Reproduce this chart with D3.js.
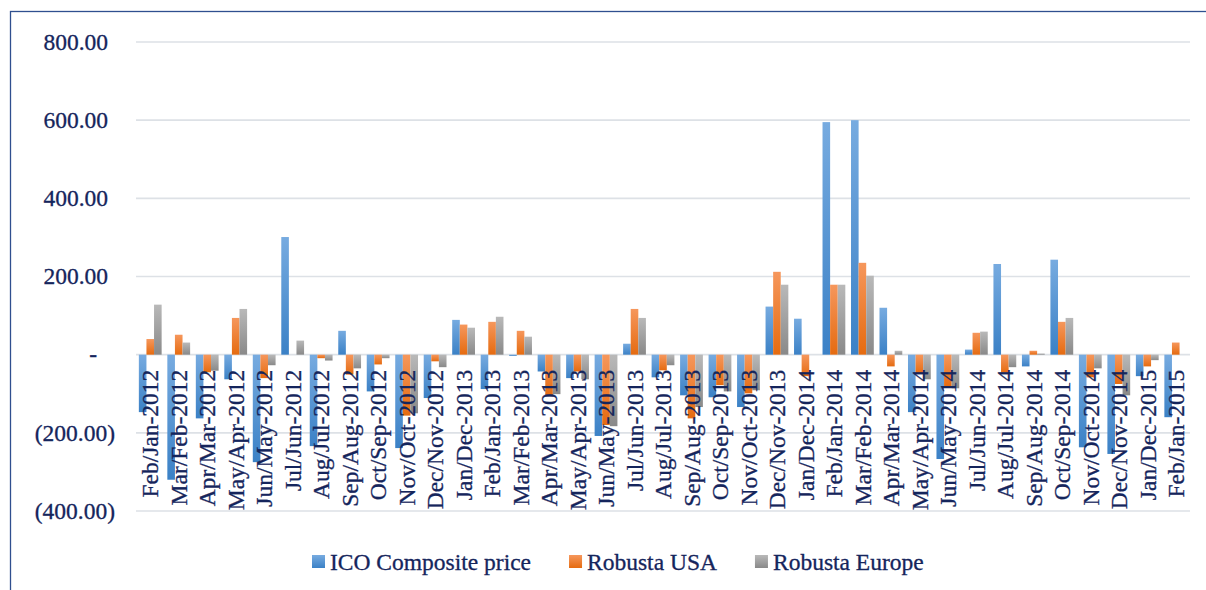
<!DOCTYPE html>
<html>
<head>
<meta charset="utf-8">
<script src="https://cdn.jsdelivr.net/npm/d3@7"></script>
<style>
  body { margin: 0; background: #fff; }
  svg text { font-family: "Liberation Serif", "Times New Roman", serif; fill: #15255C; stroke: #15255C; stroke-width: 0.3px; }
</style>
</head>
<body>
<svg id="chart" width="1206" height="590"></svg>
<script>
"use strict";

// Month-on-month changes.
const categories = [
  "Feb/Jan-2012", "Mar/Feb-2012", "Apr/Mar-2012", "May/Apr-2012", "Jun/May-2012", "Jul/Jun-2012",
  "Aug/Jul-2012", "Sep/Aug-2012", "Oct/Sep-2012", "Nov/Oct-2012", "Dec/Nov-2012", "Jan/Dec-2013",
  "Feb/Jan-2013", "Mar/Feb-2013", "Apr/Mar-2013", "May/Apr-2013", "Jun/May-2013", "Jul/Jun-2013",
  "Aug/Jul-2013", "Sep/Aug-2013", "Oct/Sep-2013", "Nov/Oct-2013", "Dec/Nov-2013", "Jan/Dec-2014",
  "Feb/Jan-2014", "Mar/Feb-2014", "Apr/Mar-2014", "May/Apr-2014", "Jun/May-2014", "Jul/Jun-2014",
  "Aug/Jul-2014", "Sep/Aug-2014", "Oct/Sep-2014", "Nov/Oct-2014", "Dec/Nov-2014", "Jan/Dec-2015",
  "Feb/Jan-2015"
];
const icoComposite = [
  -147, -320, -163, -63, -275, 301, -234, 61, -94, -239, -111, 89,
  -88, -3, -43, -60, -208, 28, -58, -104, -109, -134, 123, 92,
  595, 600, 120, -147, -267, 13, 232, -30, 243, -237, -254, -55,
  -160
];
const robustaUsa = [
  40, 51, -45, 94, -60, 0, -9, -51, -25, -156, -17, 77,
  84, 61, -106, -43, -180, 117, -40, -163, -78, -99, 212, -55,
  179, 235, -30, -49, -81, 56, -46, 10, 84, -58, -75, -30,
  31
];
const robustaEurope = [
  128, 31, -41, 117, -27, 36, -15, -35, -9, -150, -32, 69,
  97, 46, -101, -63, -183, 94, -27, -134, -94, -91, 179, 0,
  179, 202, 10, -63, -86, 59, -32, 3, 94, -35, -104, -14,
  0
];
const yTicks = [-400, -200, 0, 200, 400, 600, 800];

const series = [
  { key: "ico", name: "ICO Composite price", values: icoComposite, c0: "#77ABE0", c1: "#3B81C6" },
  { key: "usa", name: "Robusta USA", values: robustaUsa, c0: "#F6975C", c1: "#E56B10" },
  { key: "eur", name: "Robusta Europe", values: robustaEurope, c0: "#B9B9B9", c1: "#898989" }
];

const svg = d3.select("#chart");
const plot = { left: 136, right: 1190, top: 42, bottom: 511 };

// Gradients, light at top, dark at bottom like the Office style.
const defs = svg.append("defs");
series.forEach((s) => {
  const g = defs.append("linearGradient")
      .attr("id", "grad-" + s.key)
      .attr("x1", 0).attr("y1", 0).attr("x2", 0).attr("y2", 1);
  g.append("stop").attr("offset", "0%").attr("stop-color", s.c0);
  g.append("stop").attr("offset", "100%").attr("stop-color", s.c1);
});

// Outer chart border (runs off the right and bottom edges).
svg.append("rect")
    .attr("x", 10.5).attr("y", 11.5)
    .attr("width", 1300).attr("height", 700)
    .attr("fill", "none")
    .attr("stroke", "#2F4F8F")
    .attr("stroke-width", 1.3);

const x = d3.scaleBand()
    .domain(categories)
    .range([plot.left, plot.right])
    .paddingInner(0.2)
    .paddingOuter(0.1);

const x1 = d3.scaleBand()
    .domain(series.map((s) => s.key))
    .range([0, x.bandwidth()]);

const y = d3.scaleLinear()
    .domain([-400, 800])
    .range([plot.bottom, plot.top]);

// Gridlines.
svg.append("g")
    .selectAll("line")
    .data(yTicks)
    .enter().append("line")
    .attr("x1", plot.left).attr("x2", plot.right)
    .attr("y1", (d) => y(d)).attr("y2", (d) => y(d))
    .attr("stroke", "#DDE1E6")
    .attr("stroke-width", 1.6);

// Y axis labels in accounting format.
const fmt = d3.format(",.2f");
const yLabel = (d) => d === 0 ? "-" : d < 0 ? "(" + fmt(-d) + ")" : fmt(d);
svg.append("g")
    .selectAll("text")
    .data(yTicks)
    .enter().append("text")
    .attr("x", (d) => d === 0 ? 97 : d < 0 ? 115 : 108)
    .attr("y", (d) => y(d))
    .attr("dy", "0.33em")
    .attr("text-anchor", "end")
    .style("font-size", "23.5px")
    .text(yLabel);

// Bars.
const groups = svg.append("g")
    .selectAll("g")
    .data(categories)
    .enter().append("g")
    .attr("transform", (d) => "translate(" + x(d) + ",0)");

groups.selectAll("rect")
    .data((d, i) => series.map((s) => ({ key: s.key, v: s.values[i] })))
    .enter().append("rect")
    .attr("x", (d) => x1(d.key))
    .attr("width", x1.bandwidth())
    .attr("y", (d) => y(Math.max(0, d.v)))
    .attr("height", (d) => Math.abs(y(d.v) - y(0)))
    .attr("fill", (d) => "url(#grad-" + d.key + ")");

// Category labels, rotated, hanging from the zero line.
svg.append("g")
    .selectAll("text")
    .data(categories)
    .enter().append("text")
    .attr("transform", (d) => "translate(" + (x(d) + x.bandwidth() / 2) + "," + (y(0) + 15) + ") rotate(-90)")
    .attr("dy", "0.35em")
    .attr("text-anchor", "end")
    .style("font-size", "23.5px")
    .text((d) => d);

// Legend.
const legend = svg.append("g").attr("transform", "translate(312,562)");
let lx = 0;
series.forEach((s) => {
  const item = legend.append("g").attr("transform", "translate(" + lx + ",0)");
  item.append("rect")
      .attr("x", 0).attr("y", -7)
      .attr("width", 13).attr("height", 13)
      .attr("fill", "url(#grad-" + s.key + ")");
  const t = item.append("text")
      .attr("x", 18)
      .attr("dy", "0.33em")
      .style("font-size", "23.5px")
      .text(s.name);
  lx += 18 + t.node().getComputedTextLength() + 38;
});
</script>
</body>
</html>
